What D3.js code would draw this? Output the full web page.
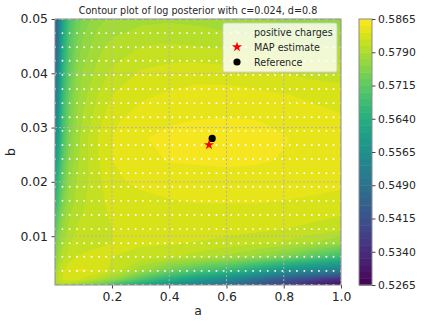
<!DOCTYPE html>
<html>
<head>
<meta charset="utf-8">
<script src="https://cdn.jsdelivr.net/npm/d3@7"></script>
<style>
  body { margin: 0; background: #fff; }
  svg { display: block; font-family: "DejaVu Sans", sans-serif; }
  text { fill: #262626; }
</style>
</head>
<body>
<div id="chart"></div>
<script>
// Grid the surface is read on (denser near the steep left and bottom edges)
const gridA = [0.001, 0.01, 0.02, 0.03, 0.05, 0.075, 0.1, 0.15, 0.2, 0.3, 0.4, 0.5, 0.6, 0.7, 0.8, 0.9, 1.0];
const gridB = [0.05, 0.045, 0.04, 0.036, 0.031, 0.028, 0.024, 0.02, 0.016, 0.0114, 0.0088, 0.0062, 0.0036, 0.002, 0.001];

// Log posterior estimates, one row per gridB value
const logPosterior = [
  [.5440, .5480, .5560, .5620, .5690, .5730, .5750, .5770, .5778, .5785, .5787, .5785, .5780, .5775, .5772, .5770, .5768],
  [.5470, .5500, .5580, .5640, .5705, .5745, .5765, .5785, .5795, .5805, .5807, .5805, .5802, .5798, .5795, .5792, .5790],
  [.5490, .5530, .5600, .5660, .5720, .5760, .5778, .5795, .5808, .5822, .5828, .5830, .5828, .5825, .5820, .5815, .5812],
  [.5510, .5550, .5620, .5675, .5730, .5768, .5785, .5805, .5820, .5832, .5837, .5840, .5841, .5839, .5836, .5832, .5829],
  [.5530, .5570, .5640, .5690, .5742, .5775, .5793, .5815, .5832, .5844, .5849, .5851, .5852, .5851, .5847, .5842, .5838],
  [.5555, .5595, .5650, .5700, .5750, .5780, .5798, .5820, .5835, .5849, .5853, .5855, .5856, .5854, .5851, .5846, .5842],
  [.5590, .5630, .5675, .5715, .5760, .5785, .5798, .5818, .5835, .5845, .5851, .5852, .5853, .5852, .5849, .5845, .5843],
  [.5620, .5660, .5700, .5730, .5770, .5790, .5800, .5815, .5832, .5838, .5842, .5843, .5844, .5843, .5842, .5840, .5838],
  [.5660, .5690, .5725, .5750, .5780, .5795, .5803, .5815, .5825, .5830, .5833, .5835, .5835, .5835, .5834, .5832, .5830],
  [.5705, .5735, .5760, .5775, .5795, .5805, .5810, .5817, .5820, .5826, .5827, .5827, .5826, .5824, .5821, .5816, .5810],
  [.5730, .5755, .5775, .5787, .5802, .5811, .5815, .5818, .5820, .5822, .5822, .5819, .5815, .5810, .5803, .5790, .5772],
  [.5750, .5770, .5790, .5800, .5812, .5820, .5822, .5823, .5820, .5815, .5808, .5797, .5785, .5770, .5745, .5710, .5675],
  [.5780, .5795, .5810, .5820, .5832, .5837, .5838, .5832, .5815, .5775, .5730, .5695, .5665, .5620, .5570, .5535, .5510],
  [.5790, .5803, .5815, .5822, .5828, .5824, .5815, .5795, .5770, .5700, .5640, .5590, .5550, .5490, .5430, .5385, .5340],
  [.5780, .5785, .5790, .5790, .5785, .5775, .5760, .5730, .5690, .5620, .5570, .5530, .5490, .5430, .5380, .5320, .5280]
];

// Evaluation points drawn as white dots
const chargeA = [0.001, 0.027, 0.052, 0.078, 0.103, 0.129, 0.155, 0.180, 0.206, 0.232, 0.257, 0.283, 0.308, 0.334, 0.360, 0.385, 0.411, 0.437, 0.462, 0.488, 0.513, 0.539, 0.565, 0.590, 0.616, 0.642, 0.667, 0.693, 0.718, 0.744, 0.770, 0.795, 0.821, 0.846, 0.872, 0.898, 0.923, 0.949, 0.974, 1.000];
const chargeB = [0.001, 0.0036, 0.0062, 0.0087, 0.0113, 0.0139, 0.0165, 0.0191, 0.0216, 0.0242, 0.0268, 0.0294, 0.0319, 0.0345, 0.0371, 0.0397, 0.0423, 0.0448, 0.0474, 0.05];

const mapEstimate = [0.539, 0.0268];
const reference = [0.55, 0.028];

const aTicks = [0.2, 0.4, 0.6, 0.8, 1.0];
const bTicks = [0.01, 0.02, 0.03, 0.04, 0.05];
const colorTicks = [0.5265, 0.5340, 0.5415, 0.5490, 0.5565, 0.5640, 0.5715, 0.5790, 0.5865];
const levels = d3.range(0, 41).map(i => 0.5265 + i * 0.0015);
const legendLabels = ['positive charges', 'MAP estimate', 'Reference'];

const svg = d3.select('#chart').append('svg')
    .attr('width', 423)
    .attr('height', 323);

const plot = { left: 55, right: 341, top: 19, bottom: 285 };
const bar = { left: 359, right: 372 };

const x = d3.scaleLinear().domain([0.001, 1]).range([plot.left, plot.right]);
const y = d3.scaleLinear().domain([0.001, 0.05]).range([plot.bottom, plot.top]);
const colorY = d3.scaleLinear().domain([0.5265, 0.5865]).range([plot.bottom, plot.top]);
const color = v => d3.interpolateViridis((v - 0.5265) / 0.06);

svg.append('clipPath').attr('id', 'plot-clip').append('rect')
    .attr('x', plot.left).attr('y', plot.top)
    .attr('width', plot.right - plot.left).attr('height', plot.bottom - plot.top);

const content = svg.append('g').attr('clip-path', 'url(#plot-clip)');

// Filled contours, lowest band first so the higher ones paint over it
const nx = gridA.length, ny = gridB.length;
const contours = d3.contours().size([nx, ny]).thresholds(levels.slice(0, -1))(logPosterior.flat());

// d3.contours gives grid coordinates, move them onto the uneven a/b grid
const indexToA = d3.scaleLinear().domain(d3.range(nx)).range(gridA).clamp(true);
const indexToB = d3.scaleLinear().domain(d3.range(ny)).range(gridB).clamp(true);
const ringPath = ring => 'M' + ring.map(p => [x(indexToA(p[0] - 0.5)), y(indexToB(p[1] - 0.5))].join(',')).join('L') + 'Z';

content.selectAll('path.band')
    .data(contours)
    .join('path')
    .attr('class', 'band')
    .attr('fill-rule', 'evenodd')
    .attr('fill', d => color(d.value + 0.00075))
    .attr('d', d => d.coordinates.map(poly => poly.map(ringPath).join('')).join(''));

// Grid lines
content.selectAll('line.gx').data(aTicks).join('line')
    .attr('class', 'gx')
    .attr('x1', d => x(d)).attr('x2', d => x(d))
    .attr('y1', plot.top).attr('y2', plot.bottom)
    .attr('stroke', '#b4b4b4').attr('stroke-dasharray', '2,2');
content.selectAll('line.gy').data(bTicks).join('line')
    .attr('class', 'gy')
    .attr('x1', plot.left).attr('x2', plot.right)
    .attr('y1', d => y(d)).attr('y2', d => y(d))
    .attr('stroke', '#b4b4b4').attr('stroke-dasharray', '2,2');

// Charge dots
content.selectAll('circle.charge')
    .data(d3.cross(chargeA, chargeB))
    .join('circle')
    .attr('class', 'charge')
    .attr('cx', d => x(d[0]))
    .attr('cy', d => y(d[1]))
    .attr('r', 0.95)
    .attr('fill', '#fff');

const star = d3.symbol(d3.symbolStar).size(32);

content.append('circle')
    .attr('cx', x(reference[0])).attr('cy', y(reference[1]))
    .attr('r', 3.6).attr('fill', '#000');
content.append('path')
    .attr('d', star())
    .attr('transform', `translate(${x(mapEstimate[0])},${y(mapEstimate[1])})`)
    .attr('fill', '#f00');

// Axes
const xAxis = svg.append('g')
    .attr('transform', `translate(0,${plot.bottom})`)
    .call(d3.axisBottom(x).tickValues(aTicks).tickFormat(d3.format('.1f')).tickSize(3.5).tickPadding(3.5));
const yAxis = svg.append('g')
    .attr('transform', `translate(${plot.left},0)`)
    .call(d3.axisLeft(y).tickValues(bTicks).tickFormat(d3.format('.2f')).tickSize(3.5).tickPadding(3.5));
[xAxis, yAxis].forEach(g => {
    g.select('.domain').remove();
    g.selectAll('line').attr('stroke', '#444');
    g.selectAll('text').attr('font-size', 12.4).attr('font-family', '"DejaVu Sans"');
});

svg.append('rect')
    .attr('x', plot.left).attr('y', plot.top)
    .attr('width', plot.right - plot.left).attr('height', plot.bottom - plot.top)
    .attr('fill', 'none').attr('stroke', '#8c8c8c');

svg.append('text')
    .attr('x', 198).attr('y', 315)
    .attr('text-anchor', 'middle').attr('font-size', 12.4)
    .text('a');
svg.append('text')
    .attr('transform', 'translate(15,152) rotate(-90)')
    .attr('text-anchor', 'middle').attr('font-size', 12.4)
    .text('b');
svg.append('text')
    .attr('x', 198).attr('y', 14)
    .attr('text-anchor', 'middle').attr('font-size', 9.6)
    .text('Contour plot of log posterior with c=0.024, d=0.8');

// Legend
const legend = svg.append('g');
legend.append('rect')
    .attr('x', 223).attr('y', 23).attr('width', 114).attr('height', 49).attr('rx', 2)
    .attr('fill', '#fff').attr('fill-opacity', 0.8)
    .attr('stroke', '#ccc').attr('stroke-opacity', 0.8);
const legendRow = d3.scalePoint().domain(legendLabels).range([32, 62]);
legend.selectAll('text').data(legendLabels).join('text')
    .attr('x', 254).attr('y', d => legendRow(d) + 3.6)
    .attr('font-size', 9.6)
    .text(d => d);
legend.append('circle').attr('cx', 237).attr('cy', legendRow('positive charges')).attr('r', 0.95).attr('fill', '#fff');
legend.append('path').attr('d', star()).attr('fill', '#f00')
    .attr('transform', `translate(237,${legendRow('MAP estimate')})`);
legend.append('circle').attr('cx', 237).attr('cy', legendRow('Reference')).attr('r', 3.6).attr('fill', '#000');

// Colorbar
svg.append('g').selectAll('rect')
    .data(d3.pairs(levels))
    .join('rect')
    .attr('x', bar.left)
    .attr('width', bar.right - bar.left)
    .attr('y', d => colorY(d[1]))
    .attr('height', d => colorY(d[0]) - colorY(d[1]) + 0.5)
    .attr('fill', d => color((d[0] + d[1]) / 2));
svg.append('rect')
    .attr('x', bar.left).attr('y', plot.top)
    .attr('width', bar.right - bar.left).attr('height', plot.bottom - plot.top)
    .attr('fill', 'none').attr('stroke', '#8c8c8c');
const colorAxis = svg.append('g')
    .attr('transform', `translate(${bar.right},0)`)
    .call(d3.axisRight(colorY).tickValues(colorTicks).tickFormat(d3.format('.4f')).tickSize(3.5).tickPadding(2.5));
colorAxis.select('.domain').remove();
colorAxis.selectAll('line').attr('stroke', '#444');
colorAxis.selectAll('text').attr('font-size', 10.8).attr('font-family', '"DejaVu Sans"');
</script>
</body>
</html>
